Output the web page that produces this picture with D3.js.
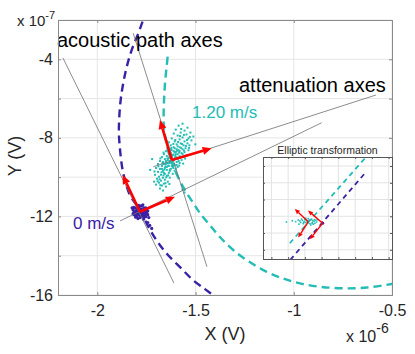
<!DOCTYPE html>
<html>
<head>
<meta charset="utf-8">
<script src="https://cdn.jsdelivr.net/npm/d3@7/dist/d3.min.js"></script>
<style>
  body { margin: 0; background: #fff; }
  svg { font-family: "Liberation Sans", Arial, Helvetica, sans-serif; }
</style>
</head>
<body>
<svg id="ellipseChart" width="415" height="354"></svg>
<script>
// all main-plot values in nV (1e-9 V)
const xTicks = [-2000, -1500, -1000, -500];
const yTicks = [-1600, -1400, -1200, -1000, -800, -600, -400, -200];
const yLabelTicks = [-1600, -1200, -800, -400];

// dashed arcs (0 m/s blue, 1.20 m/s cyan)
const blueArc = [[-1742,-149],[-1766,-200],[-1791,-268],[-1825,-353],[-1850,-438],[-1868,-522],
  [-1881,-607],[-1888,-692],[-1890,-777],[-1884,-862],[-1874,-947],[-1859,-1015],[-1834,-1091],
  [-1783,-1167],[-1742,-1249],[-1696,-1325],[-1645,-1391],[-1579,-1458],[-1513,-1524],
  [-1452,-1570],[-1411,-1600],[-1365,-1641]];
const cyanArc = [[-1642,-387],[-1647,-438],[-1654,-505],[-1659,-582],[-1662,-658],[-1661,-745],
  [-1648,-826],[-1625,-913],[-1594,-989],[-1554,-1066],[-1511,-1133],[-1477,-1184],[-1427,-1244],
  [-1376,-1305],[-1308,-1371],[-1228,-1430],[-1138,-1482],[-1055,-1516],[-968,-1541],[-867,-1558],
  [-748,-1566],[-627,-1562],[-502,-1544],[-460,-1537]];

// measurement clouds: centre + offsets
const blueCenter = [-1783, -1176];
const cyanCenter = [-1621, -913];
const blueCloud = [[0,0],[10,-5],[-10,5],[15,10],[-15,-10],[5,15],[-5,-15],[20,-5],[-20,5],[25,10],
  [-25,-5],[10,-20],[-10,20],[30,0],[-30,0],[15,-15],[-15,15],[20,20],[-20,-20],[5,-25],[-5,25],
  [35,-5],[-35,10],[25,-20],[-25,20],[0,30],[0,-30],[30,20],[-30,-15],[40,5],[10,30],[-15,-25],
  [20,-30],[-35,-10],[40,-15],[30,-25],[45,-30],[40,-55],[60,-85],[50,-70],[-40,20],[15,35],
  [-10,-35],[5,-5],[-5,5],[10,10],[-10,-10],[28,-12],[-22,-28],[-32,22],[18,-38],[-8,32],[32,12]];
const cyanCloud = [[55,185],[35,175],[80,165],[20,155],[65,150],[95,140],[45,140],[10,135],[75,130],
  [30,125],[110,120],[55,115],[85,110],[0,110],[40,105],[100,100],[15,95],[65,95],[-15,90],[45,85],
  [80,85],[25,80],[60,75],[90,75],[-5,75],[10,65],[40,65],[70,60],[-20,60],[55,55],[25,55],[0,50],
  [85,50],[-30,45],[40,45],[15,40],[65,40],[-15,35],[50,35],[30,30],[-40,30],[5,25],[75,25],[-25,20],
  [40,20],[20,15],[-50,15],[60,15],[-5,10],[-35,5],[30,5],[10,0],[-20,0],[50,0],[-60,-5],[-45,-10],
  [0,-10],[25,-10],[-10,-15],[-30,-20],[40,-15],[-70,-20],[15,-25],[-50,-30],[-15,-30],[5,-35],
  [-35,-40],[30,-35],[-80,-40],[-60,-45],[-5,-45],[-25,-50],[15,-55],[-45,-55],[-70,-60],[-15,-65],
  [-35,-70],[5,-70],[-55,-75],[-85,-75],[-25,-80],[-65,-85],[-45,-90],[-10,-90],[-75,-95],[-35,-100],
  [-55,-105],[-20,-110],[-65,-115],[-40,-120],[-80,-125],[-50,-130],[-30,-135],[-60,-145],[-45,-155],
  [55,-150],[65,-165],[-100,5],[-110,-50],[100,30],[120,80],[-90,-110],
  [0,20],[15,10],[-10,-5],[5,-15],[-20,-15],[20,30],[-5,35],[35,50],[10,45],[45,15],[-30,-5],
  [-15,10],[25,-25],[-40,-20],[0,-30],[-25,-35],[15,60],[30,70],[-10,-55],[-40,-65],[-50,-45],
  [55,30],[35,-5],[-5,55],[20,-45],
  [8,28],[-12,18],[22,42],[-28,-12],[12,-22],[-18,-28],[28,12],[2,-2],[-8,-8],[18,22],[-22,8],
  [8,-40],[-32,-32],[38,38],[48,62],[28,48],[-2,62],[62,48],[52,82],[32,92],[72,72],[18,102],
  [42,122],[62,128],[-38,-48],[-52,-62],[-28,-88],[-42,-78],[-62,-98],[-18,-78],[-8,-48],[-48,-18],
  [-58,8],[-42,38],[-22,48],[8,82],[88,62],[22,-62],[-12,-122],[-32,-118],[-58,-128],[-72,-108],
  [-88,-58],[78,102],[92,118],[48,158],[-68,-32],[38,-28],[58,-18],[68,8]];

// thin grey guide lines
const acousticLines = [[[-2175,-393],[-1610,-1539]], [[-1817,-268],[-1442,-1456]]];
const attenuationLines = [[[-1884,-1223],[-858,-723]], [[-1715,-947],[-582,-582]]];

// red axes arrows [origin, tip]
const redArrows = [
  [[-1783,-1176],[-1871,-989]], [[-1783,-1176],[-1605,-1100]],
  [[-1621,-913],[-1681,-709]],  [[-1621,-913],[-1418,-853]]];

// inset (arbitrary units)
const insetXTicks = [0, 1, 2, 3, 4, 5, 6, 7];
const insetYTicks = [0, 1, 2, 3, 4, 5];
const insetCyanLine = [[1.1,0.39],[5.7,5.6]];
const insetBlueLine = [[1.13,-0.6],[5.59,4.58]];
const insetCyanCenter = [2.15, 1.68];
const insetCyanCloud = [[0,0],[0.1,0.05],[-0.1,-0.05],[0.2,0.1],[-0.2,0],[0.3,-0.05],[-0.3,0.08],
  [0.15,-0.12],[-0.15,0.12],[0.4,0.02],[-0.4,-0.05],[0.05,0.18],[-0.05,-0.18],[0.25,0.15],
  [-0.25,-0.12],[0.5,0.08],[-0.55,0.1],[-0.7,0],[0.35,-0.15],[-0.35,0.15],[-0.9,0.05],[-1.25,-0.02],
  [0.45,-0.1],[0.6,0.12],[-0.5,-0.15],[0.2,-0.2],[-0.1,0.2],[0.55,-0.02],[0.05,-0.06],[-0.05,0.08],
  [0.12,0.1],[0.32,0.06],[-0.22,-0.06],[0.42,0.12],[-0.45,0.04],[0.28,-0.1]];
const insetBluePoint = [3.06, 1.59];
const insetArrows = [
  [[2.2,1.68],[1.40,2.43]], [[2.2,1.68],[1.60,0.73]],
  [[3.06,1.59],[2.19,2.34]], [[3.06,1.59],[2.30,0.63]]];

const blue = "#3b21a6", cyan = "#23bdb5", red = "#ff0000";

let svg = d3.select("#ellipseChart"),
    margin = {top: 20, right: 23, bottom: 59, left: 58},
    width = +svg.attr("width") - margin.left - margin.right,
    height = +svg.attr("height") - margin.top - margin.bottom;

let x = d3.scaleLinear().domain([-2200, -500]).range([0, width]),
    y = d3.scaleLinear().domain([-1600, -200]).range([height, 0]);

svg.append("defs").append("clipPath").attr("id", "plotClip")
  .append("rect").attr("width", width).attr("height", height);

let g = svg.append("g").attr("transform", "translate(" + margin.left + "," + margin.top + ")");

// GRID
g.append("g").selectAll("line").data(xTicks).enter().append("line")
  .attr("x1", d => x(d)).attr("x2", d => x(d)).attr("y1", 0).attr("y2", height)
  .attr("stroke", "#e6e6e6");
g.append("g").selectAll("line").data(yTicks).enter().append("line")
  .attr("y1", d => y(d)).attr("y2", d => y(d)).attr("x1", 0).attr("x2", width)
  .attr("stroke", "#e6e6e6");

let plot = g.append("g").attr("clip-path", "url(#plotClip)");

let arcLine = d3.line().x(d => x(d[0])).y(d => y(d[1])).curve(d3.curveCatmullRom);

plot.append("path").datum(blueArc).attr("d", arcLine)
  .attr("fill", "none").attr("stroke", blue).attr("stroke-width", 2.4).attr("stroke-dasharray", "8,5");
plot.append("path").datum(cyanArc).attr("d", arcLine)
  .attr("fill", "none").attr("stroke", cyan).attr("stroke-width", 2.4).attr("stroke-dasharray", "8,5");

// CLOUDS
plot.append("g").selectAll("rect").data(cyanCloud).enter().append("rect")
  .attr("x", d => x(cyanCenter[0] + d[0]) - 1)
  .attr("y", d => y(cyanCenter[1] + d[1]) - 1)
  .attr("width", 2).attr("height", 2).attr("fill", cyan);
plot.append("g").selectAll("circle").data(blueCloud).enter().append("circle")
  .attr("cx", d => x(blueCenter[0] + d[0]))
  .attr("cy", d => y(blueCenter[1] + d[1]))
  .attr("r", 1.6).attr("fill", blue);

// guide lines
plot.append("g").selectAll("line").data(acousticLines.concat(attenuationLines)).enter().append("line")
  .attr("x1", d => x(d[0][0])).attr("y1", d => y(d[0][1]))
  .attr("x2", d => x(d[1][0])).attr("y2", d => y(d[1][1]))
  .attr("stroke", "#6e6e6e").attr("stroke-width", 0.8);

let drawArrow = (sel, sx, sy, a, lw, hl, hw) => {
  let x1 = sx(a[0][0]), y1 = sy(a[0][1]), x2 = sx(a[1][0]), y2 = sy(a[1][1]);
  let len = Math.hypot(x2 - x1, y2 - y1), ux = (x2 - x1) / len, uy = (y2 - y1) / len;
  let bx = x2 - ux * hl, by = y2 - uy * hl;
  sel.append("line").attr("x1", x1).attr("y1", y1).attr("x2", bx).attr("y2", by)
    .attr("stroke", red).attr("stroke-width", lw);
  sel.append("polygon")
    .attr("points", [[x2, y2], [bx - uy * hw / 2, by + ux * hw / 2], [bx + uy * hw / 2, by - ux * hw / 2]].join(" "))
    .attr("fill", red);
};
let arrowG = g.append("g");
redArrows.forEach(a => drawArrow(arrowG, x, y, a, 2.6, 9, 8));

// ANNOTATIONS
g.append("text").attr("x", -1).attr("y", 27).style("font-size", "20px").attr("fill", "#000")
  .text("acoustic path axes");
g.append("text").attr("x", 181).attr("y", 72).style("font-size", "20px").attr("fill", "#000")
  .text("attenuation axes");
g.append("text").attr("x", 134).attr("y", 98).style("font-size", "17px").attr("fill", cyan)
  .text("1.20 m/s");
g.append("text").attr("x", 15).attr("y", 209).style("font-size", "17px").attr("fill", blue)
  .text("0 m/s");

// AXES
let axisCol = "#8a8a8a";
g.append("g").attr("transform", "translate(0," + height + ")")
  .call(d3.axisBottom(x).tickValues(xTicks).tickSize(-3).tickPadding(10).tickFormat(d => String(d / 1000)));
g.append("g")
  .call(d3.axisLeft(y).tickValues(yTicks).tickSize(-3).tickPadding(5)
    .tickFormat(d => yLabelTicks.includes(d) ? String(d / 100) : ""));
g.append("g").call(d3.axisTop(x).tickValues(xTicks).tickSize(-3).tickFormat(""));
g.append("g").attr("transform", "translate(" + width + ",0)")
  .call(d3.axisRight(y).tickValues(yTicks).tickSize(-3).tickFormat(""));
g.selectAll(".domain, .tick line").attr("stroke", axisCol);
g.selectAll(".tick text").style("font-size", "16px").attr("fill", "#262626").attr("font-family", null);

// axis titles + exponents
svg.append("text").attr("x", 225).attr("y", 340).attr("text-anchor", "middle")
  .style("font-size", "18px").attr("fill", "#262626").text("X (V)");
svg.append("text").attr("transform", "translate(21,156) rotate(-90)").attr("text-anchor", "middle")
  .style("font-size", "18px").attr("fill", "#262626").text("Y (V)");
let e7 = svg.append("text").attr("x", 17).attr("y", 26).style("font-size", "15px").attr("fill", "#262626");
e7.append("tspan").text("x 10");
e7.append("tspan").attr("dy", -7).style("font-size", "11px").text("-7");
let e6 = svg.append("text").attr("x", 346).attr("y", 342).style("font-size", "16px").attr("fill", "#262626");
e6.append("tspan").text("x 10");
e6.append("tspan").attr("dy", -9).style("font-size", "14px").text("-6");

// INSET
let inset = {left: 263, top: 157, width: 129, height: 102};
let ix = d3.scaleLinear().domain([-0.5, 7.2]).range([0, inset.width]),
    iy = d3.scaleLinear().domain([-0.55, 5.54]).range([inset.height, 0]);
let ig = svg.append("g").attr("transform", "translate(" + inset.left + "," + inset.top + ")");
svg.select("defs").append("clipPath").attr("id", "insetClip")
  .append("rect").attr("width", inset.width).attr("height", inset.height);

ig.append("rect").attr("width", inset.width).attr("height", inset.height).attr("fill", "#fff");
ig.append("g").selectAll("line").data(insetXTicks).enter().append("line")
  .attr("x1", d => ix(d)).attr("x2", d => ix(d)).attr("y1", 0).attr("y2", inset.height)
  .attr("stroke", "#e3e3e3");
ig.append("g").selectAll("line").data(insetYTicks).enter().append("line")
  .attr("y1", d => iy(d)).attr("y2", d => iy(d)).attr("x1", 0).attr("x2", inset.width)
  .attr("stroke", "#e3e3e3");

let ip = ig.append("g").attr("clip-path", "url(#insetClip)");
let insetLine = d3.line().x(d => ix(d[0])).y(d => iy(d[1]));
ip.append("path").datum(insetCyanLine).attr("d", insetLine).attr("fill", "none")
  .attr("stroke", cyan).attr("stroke-width", 1.8).attr("stroke-dasharray", "5,4");
ip.append("path").datum(insetBlueLine).attr("d", insetLine).attr("fill", "none")
  .attr("stroke", blue).attr("stroke-width", 1.8).attr("stroke-dasharray", "5,4");
ip.append("g").selectAll("rect").data(insetCyanCloud).enter().append("rect")
  .attr("x", d => ix(insetCyanCenter[0] + d[0]) - 0.8)
  .attr("y", d => iy(insetCyanCenter[1] + d[1]) - 0.8)
  .attr("width", 1.6).attr("height", 1.6).attr("fill", cyan);
ip.append("circle").attr("cx", ix(insetBluePoint[0])).attr("cy", iy(insetBluePoint[1]))
  .attr("r", 1.6).attr("fill", blue);
let iArrowG = ig.append("g");
insetArrows.forEach(a => drawArrow(iArrowG, ix, iy, a, 1.4, 5, 4.5));

ig.append("g").call(d3.axisLeft(iy).tickValues(insetYTicks).tickSize(-2).tickFormat(""));
ig.append("g").attr("transform", "translate(0," + inset.height + ")")
  .call(d3.axisBottom(ix).tickValues(insetXTicks).tickSize(-2).tickFormat(""));
ig.append("g").call(d3.axisTop(ix).tickValues(insetXTicks).tickSize(-2).tickFormat(""));
ig.append("g").attr("transform", "translate(" + inset.width + ",0)")
  .call(d3.axisRight(iy).tickValues(insetYTicks).tickSize(-2).tickFormat(""));
ig.selectAll(".domain, .tick line").attr("stroke", "#555");

ig.append("text").attr("x", inset.width / 2).attr("y", -3).attr("text-anchor", "middle")
  .style("font-size", "10.5px").attr("fill", "#262626").text("Elliptic transformation");
</script>
</body>
</html>
